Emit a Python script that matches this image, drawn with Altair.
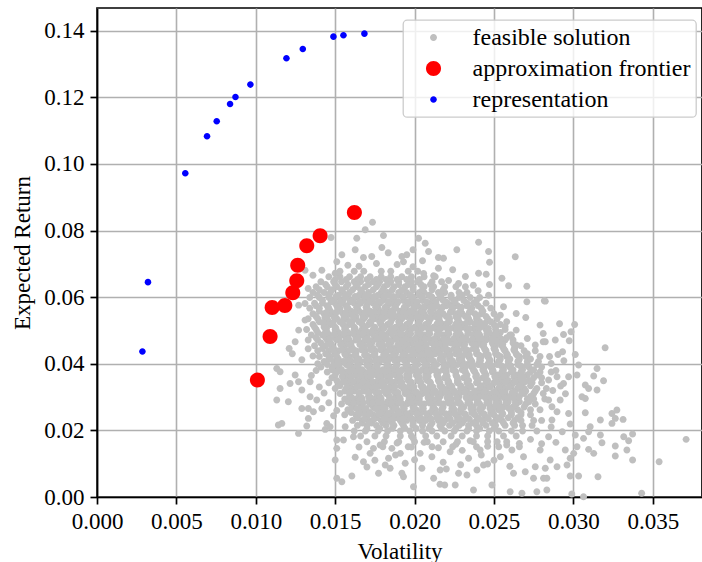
import altair as alt
import pandas as pd

# ---------------- legend / styling categories ----------------
series_names = ["feasible solution", "approximation frontier", "representation"]
series_colors = ["#bfbfbf", "#ff0000", "#0000ff"]
# marker radius (relative to the unit symbol box) for each series
series_radius = [0.52, 1.12, 0.49]

x_ticks = [0.000, 0.005, 0.010, 0.015, 0.020, 0.025, 0.030, 0.035]
y_ticks = [0.00, 0.02, 0.04, 0.06, 0.08, 0.10, 0.12, 0.14]

# ---------------- values (in thousandths) ----------------
frontier_vol = [16.21, 14.05, 13.21, 12.64, 12.58, 12.33, 11.83, 11.03, 10.90, 10.10]
frontier_ret = [85.4, 78.4, 75.4, 69.6, 64.9, 61.3, 57.5, 56.9, 48.2, 35.1]

repr_vol = [2.86, 3.21, 5.56, 6.93, 7.54, 8.38, 8.72, 9.66, 11.93, 12.96, 14.89, 15.52, 16.84]
repr_ret = [43.7, 64.5, 97.2, 108.3, 112.8, 118.0, 120.1, 123.8, 131.7, 134.5, 138.2, 138.6, 139.1]

# dense core of feasible solutions, read row by row (return level: volatilities)
feasible_row_ret = [67.8, 66.1, 64.6, 63.1, 61.4, 59.9, 58.2, 56.7, 55.0, 53.5, 51.8, 50.3,
                    48.6, 47.1, 45.4, 43.9, 42.2, 40.7, 39.0, 37.5, 35.8, 34.3, 32.6, 31.1,
                    29.4, 27.9, 26.2, 24.7, 23.0, 21.5, 19.8, 18.3, 16.6, 15.1]
feasible_row_vol = [
    [15.3, 16.2, 16.8, 17.9, 18.5, 19.6, 20.2],
    [14.6, 15.3, 15.9, 16.6, 17.2, 17.9, 18.5, 19.2, 19.8, 20.6, 21.3],
    [14.1, 14.9, 15.4, 16.2, 16.6, 17.4, 17.8, 18.5, 19.0, 19.8, 20.2, 21.1, 21.7],
    [13.8, 14.5, 15.1, 15.7, 16.3, 16.9, 17.6, 18.1, 18.7, 19.4, 19.9, 20.6, 21.2, 21.9, 22.6],
    [13.6, 14.3, 14.7, 15.5, 15.9, 16.7, 17.1, 17.9, 18.3, 19.0, 19.5, 20.3, 20.6, 21.5, 21.9, 22.8, 23.3],
    [13.4, 14.0, 14.6, 15.2, 15.8, 16.4, 17.0, 17.5, 18.1, 18.7, 19.3, 19.9, 20.5, 21.1, 21.6, 22.3, 22.8, 23.5, 24.1],
    [13.7, 14.2, 15.0, 15.4, 16.2, 16.6, 17.4, 17.8, 18.6, 18.9, 19.7, 20.1, 20.9, 21.3, 22.1, 22.5, 23.3, 23.7, 24.5],
    [13.4, 14.0, 14.6, 15.3, 15.8, 16.4, 17.0, 17.7, 18.2, 18.8, 19.4, 20.0, 20.6, 21.2, 21.7, 22.4, 22.9, 23.6, 24.2, 24.8],
    [13.6, 14.3, 14.7, 15.5, 15.9, 16.7, 17.1, 17.9, 18.3, 19.1, 19.5, 20.2, 20.6, 21.4, 21.8, 22.6, 23.0, 23.8, 24.2, 25.0],
    [13.3, 13.9, 14.5, 15.1, 15.7, 16.3, 16.8, 17.5, 18.0, 18.6, 19.2, 19.8, 20.4, 21.0, 21.5, 22.2, 22.7, 23.4, 23.9, 24.6, 25.2],
    [13.6, 14.3, 14.7, 15.5, 15.9, 16.7, 17.1, 17.9, 18.3, 19.1, 19.5, 20.3, 20.7, 21.4, 21.8, 22.6, 23.0, 23.8, 24.2, 25.0, 25.4],
    [13.2, 13.8, 14.4, 15.0, 15.6, 16.2, 16.7, 17.4, 17.9, 18.5, 19.1, 19.7, 20.3, 20.9, 21.4, 22.1, 22.6, 23.3, 23.8, 24.5, 25.1, 25.7],
    [13.5, 14.2, 14.6, 15.4, 15.8, 16.6, 17.0, 17.8, 18.2, 19.0, 19.4, 20.2, 20.6, 21.4, 21.8, 22.6, 22.9, 23.7, 24.1, 24.9, 25.3, 26.1],
    [13.3, 13.9, 14.5, 15.1, 15.7, 16.3, 16.9, 17.4, 18.0, 18.6, 19.2, 19.8, 20.4, 21.0, 21.5, 22.1, 22.7, 23.3, 23.9, 24.5, 25.0, 25.7, 26.2],
    [13.7, 14.4, 14.8, 15.6, 16.0, 16.8, 17.2, 18.0, 18.4, 19.2, 19.5, 20.3, 20.7, 21.5, 21.9, 22.7, 23.1, 23.9, 24.3, 25.1, 25.5, 26.3, 26.7],
    [13.9, 14.6, 15.2, 15.8, 16.3, 16.9, 17.5, 18.1, 18.7, 19.3, 19.9, 20.4, 21.0, 21.6, 22.2, 22.8, 23.4, 23.9, 24.5, 25.1, 25.7, 26.3, 26.9, 27.6],
    [14.0, 14.7, 15.1, 15.9, 16.3, 17.1, 17.5, 18.3, 18.7, 19.5, 19.8, 20.6, 21.0, 21.8, 22.2, 23.0, 23.4, 24.2, 24.6, 25.4, 25.8, 26.6, 27.0, 27.9, 28.5],
    [14.3, 14.9, 15.5, 16.0, 16.6, 17.2, 17.8, 18.3, 18.9, 19.5, 20.1, 20.7, 21.2, 21.8, 22.4, 23.0, 23.6, 24.1, 24.7, 25.3, 25.9, 26.5, 27.1, 27.8],
    [14.1, 14.8, 15.2, 16.0, 16.4, 17.2, 17.6, 18.4, 18.8, 19.6, 20.0, 20.8, 21.2, 22.0, 22.4, 23.2, 23.6, 24.4, 24.8, 25.6, 26.0, 26.8, 27.2, 28.0],
    [14.5, 15.1, 15.7, 16.3, 16.8, 17.4, 18.0, 18.6, 19.1, 19.7, 20.3, 20.9, 21.5, 22.0, 22.6, 23.2, 23.8, 24.4, 24.9, 25.5, 26.1, 26.7, 27.3, 27.9, 28.6],
    [14.8, 15.5, 15.9, 16.7, 17.1, 17.9, 18.3, 19.1, 19.5, 20.3, 20.7, 21.5, 21.9, 22.7, 23.1, 23.9, 24.3, 25.1, 25.5, 26.3, 26.7, 27.5, 28.0],
    [14.6, 15.2, 15.8, 16.4, 16.9, 17.5, 18.1, 18.7, 19.2, 19.8, 20.4, 21.0, 21.6, 22.1, 22.7, 23.3, 23.9, 24.5, 25.0, 25.6, 26.2, 26.8, 27.4, 28.0],
    [15.0, 15.7, 16.1, 16.9, 17.3, 18.1, 18.5, 19.3, 19.7, 20.5, 20.9, 21.7, 22.1, 22.9, 23.3, 24.1, 24.5, 25.3, 25.7, 26.5, 26.9, 27.7, 28.3],
    [15.3, 15.9, 16.5, 17.1, 17.6, 18.2, 18.8, 19.4, 19.9, 20.5, 21.1, 21.7, 22.3, 22.8, 23.4, 24.0, 24.6, 25.2, 25.7, 26.3, 26.9, 27.5, 28.1],
    [15.6, 16.3, 16.7, 17.5, 17.9, 18.7, 19.1, 19.9, 20.3, 21.1, 21.5, 22.3, 22.7, 23.5, 23.9, 24.7, 25.1, 25.9, 26.3, 27.1, 27.5, 28.2],
    [15.4, 16.0, 16.6, 17.2, 17.7, 18.3, 18.9, 19.5, 20.0, 20.6, 21.2, 21.8, 22.4, 22.9, 23.5, 24.1, 24.7, 25.3, 25.8, 26.4, 27.0, 27.6],
    [15.8, 16.5, 16.9, 17.7, 18.1, 18.9, 19.3, 20.1, 20.5, 21.3, 21.7, 22.5, 22.9, 23.7, 24.1, 24.9, 25.3, 26.1, 26.5, 27.3, 27.9],
    [15.6, 16.3, 16.9, 17.4, 18.0, 18.6, 19.2, 19.7, 20.3, 20.9, 21.5, 22.1, 22.6, 23.2, 23.8, 24.4, 25.0, 25.5, 26.1, 26.7, 27.3],
    [16.1, 16.7, 17.1, 17.9, 18.3, 19.1, 19.5, 20.3, 20.7, 21.5, 21.9, 22.7, 23.1, 23.9, 24.3, 25.1, 25.5, 26.3, 26.7, 27.5, 28.0],
    [16.4, 17.0, 17.6, 18.2, 18.7, 19.3, 19.9, 20.5, 21.0, 21.6, 22.2, 22.8, 23.4, 23.9, 24.5, 25.1, 25.7, 26.3, 26.8, 27.4],
    [16.2, 16.9, 17.7, 18.3, 19.1, 19.7, 20.5, 21.1, 21.9, 22.5, 23.3, 23.9, 24.7, 25.3, 26.1, 26.8, 27.7],
    [16.6, 17.5, 18.2, 19.1, 19.8, 20.7, 21.4, 22.3, 23.0, 23.9, 24.6, 25.6, 26.4],
    [17.0, 18.1, 19.0, 20.0, 20.8, 21.8, 22.7, 23.7, 24.6, 25.8],
    [18.0, 19.6, 21.1, 22.4, 23.9, 25.3, 26.6],
]

# in-between rows of the densest part of the cloud
feasible_mid_ret = [65.3, 63.8, 62.2, 60.6, 59.0, 57.4, 55.8, 54.2, 52.6, 51.0, 49.4, 47.8,
                    46.2, 44.6, 43.0, 41.4, 39.8, 38.2, 36.6, 35.0, 33.4, 31.8, 30.2, 28.6,
                    27.0, 25.4, 23.8, 22.2, 20.6]
feasible_mid_vol = [
    [15.0, 15.7, 16.4, 17.0, 17.6, 18.2, 18.9, 19.5, 20.3],
    [14.4, 15.0, 15.8, 16.4, 17.1, 17.7, 18.3, 19.0, 19.6, 20.4, 21.0],
    [14.0, 14.8, 15.4, 16.1, 16.6, 17.4, 18.0, 18.6, 19.2, 19.9, 20.5, 21.1, 21.8],
    [13.9, 14.6, 15.2, 15.8, 16.5, 17.1, 17.7, 18.4, 19.0, 19.7, 20.3, 20.9, 21.6, 22.3, 23.0],
    [14.2, 14.9, 15.5, 16.1, 16.8, 17.3, 18.0, 18.6, 19.3, 19.8, 20.5, 21.2, 21.8, 22.5, 23.1, 23.9],
    [13.8, 14.5, 15.1, 15.7, 16.4, 17.0, 17.6, 18.3, 18.8, 19.5, 20.2, 20.8, 21.4, 22.0, 22.7, 23.3, 24.0],
    [14.0, 14.7, 15.3, 16.0, 16.5, 17.2, 17.8, 18.5, 19.1, 19.7, 20.4, 21.0, 21.6, 22.3, 22.9, 23.5, 24.3],
    [13.8, 14.4, 15.0, 15.7, 16.3, 16.9, 17.6, 18.2, 18.8, 19.5, 20.1, 20.7, 21.3, 22.0, 22.6, 23.2, 23.9, 24.5],
    [14.0, 14.6, 15.3, 15.9, 16.5, 17.2, 17.8, 18.5, 19.0, 19.7, 20.3, 20.9, 21.6, 22.2, 22.8, 23.5, 24.1, 24.8],
    [13.7, 14.3, 15.0, 15.6, 16.2, 16.9, 17.5, 18.1, 18.8, 19.4, 20.0, 20.7, 21.2, 21.9, 22.5, 23.1, 23.8, 24.4, 25.1],
    [13.9, 14.5, 15.2, 15.8, 16.4, 17.1, 17.7, 18.4, 18.9, 19.6, 20.2, 20.9, 21.5, 22.1, 22.8, 23.4, 24.0, 24.7, 25.4],
    [13.8, 14.4, 15.0, 15.7, 16.3, 16.9, 17.6, 18.2, 18.8, 19.5, 20.1, 20.7, 21.4, 22.0, 22.6, 23.2, 23.9, 24.5, 25.2, 25.8],
    [14.1, 14.7, 15.4, 16.0, 16.6, 17.3, 17.9, 18.5, 19.2, 19.8, 20.4, 21.1, 21.7, 22.3, 23.0, 23.6, 24.2, 24.9, 25.5, 26.2],
    [14.2, 14.9, 15.5, 16.1, 16.8, 17.4, 18.0, 18.7, 19.3, 19.9, 20.6, 21.2, 21.8, 22.5, 23.1, 23.7, 24.4, 25.0, 25.6, 26.3],
    [14.4, 15.0, 15.6, 16.3, 16.9, 17.5, 18.2, 18.8, 19.4, 20.1, 20.7, 21.3, 22.0, 22.6, 23.2, 23.9, 24.5, 25.1, 25.8, 26.4, 27.1],
    [14.6, 15.2, 15.9, 16.5, 17.1, 17.8, 18.4, 19.0, 19.7, 20.3, 20.9, 21.6, 22.2, 22.8, 23.5, 24.1, 24.7, 25.4, 26.0, 26.6, 27.3],
    [14.5, 15.1, 15.7, 16.4, 17.0, 17.6, 18.3, 18.9, 19.5, 20.2, 20.8, 21.4, 22.1, 22.7, 23.3, 24.0, 24.6, 25.2, 25.9, 26.5, 27.1, 27.7],
    [14.8, 15.4, 16.1, 16.7, 17.3, 18.0, 18.6, 19.2, 19.9, 20.5, 21.1, 21.8, 22.4, 23.0, 23.7, 24.3, 24.9, 25.6, 26.2, 26.8, 27.5],
    [15.0, 15.7, 16.3, 16.9, 17.6, 18.2, 18.8, 19.5, 20.1, 20.7, 21.4, 22.0, 22.6, 23.3, 23.9, 24.5, 25.2, 25.8, 26.4, 27.1, 27.7],
    [15.1, 15.8, 16.4, 17.0, 17.7, 18.3, 18.9, 19.6, 20.2, 20.8, 21.5, 22.1, 22.7, 23.4, 24.0, 24.6, 25.3, 25.9, 26.5, 27.2],
    [15.3, 15.9, 16.6, 17.2, 17.8, 18.5, 19.1, 19.7, 20.4, 21.0, 21.6, 22.3, 22.9, 23.5, 24.2, 24.8, 25.4, 26.1, 26.7, 27.3],
    [15.6, 16.2, 16.8, 17.5, 18.1, 18.7, 19.4, 20.0, 20.6, 21.3, 21.9, 22.5, 23.2, 23.8, 24.4, 25.1, 25.7, 26.3, 27.0, 27.6],
    [15.9, 16.5, 17.1, 17.8, 18.4, 19.0, 19.7, 20.3, 20.9, 21.6, 22.2, 22.8, 23.5, 24.1, 24.7, 25.4, 26.0, 26.6, 27.3],
    [15.8, 16.4, 17.1, 17.7, 18.3, 19.0, 19.6, 20.2, 20.9, 21.5, 22.1, 22.8, 23.4, 24.0, 24.7, 25.3, 25.9, 26.6, 27.2],
    [16.1, 16.7, 17.4, 18.0, 18.6, 19.3, 19.9, 20.5, 21.2, 21.8, 22.4, 23.1, 23.7, 24.3, 25.0, 25.6, 26.2, 26.9],
    [16.0, 16.6, 17.2, 17.9, 18.5, 19.1, 19.8, 20.4, 21.0, 21.7, 22.3, 22.9, 23.6, 24.2, 24.8, 25.5, 26.1, 26.7],
    [16.4, 17.0, 17.6, 18.3, 18.9, 19.5, 20.2, 20.8, 21.4, 22.1, 22.7, 23.3, 24.0, 24.6, 25.2, 25.9, 26.5],
    [16.7, 17.3, 18.0, 18.6, 19.2, 19.9, 20.5, 21.1, 21.8, 22.4, 23.0, 23.7, 24.3, 24.9, 25.6, 26.2],
    [17.0, 17.8, 18.6, 19.4, 20.1, 20.9, 21.7, 22.6, 23.4, 24.1, 25.0],
]

# extra rows filling the solid centre of the cloud
feasible_fill_ret = [60.2, 58.6, 57.0, 55.4, 53.8, 52.2, 50.6, 49.0, 47.4, 45.8, 44.2, 42.6,
                     41.0, 39.4, 37.8, 36.2, 34.6, 33.0, 31.4, 29.8, 28.2, 26.6, 25.0, 23.4]
feasible_fill_vol = [
    [15.05, 15.65, 16.25, 16.85, 17.45, 18.05, 18.65, 19.25, 19.85, 20.45, 21.05, 21.65],
    [14.75, 15.35, 15.95, 16.55, 17.15, 17.75, 18.35, 18.95, 19.55, 20.15, 20.75, 21.35, 21.95, 22.55],
    [14.55, 15.15, 15.75, 16.35, 16.95, 17.55, 18.15, 18.75, 19.35, 19.95, 20.55, 21.15, 21.75, 22.35, 22.95],
    [14.45, 15.05, 15.65, 16.25, 16.85, 17.45, 18.05, 18.65, 19.25, 19.85, 20.45, 21.05, 21.65, 22.25, 22.85, 23.45],
    [14.35, 14.95, 15.55, 16.15, 16.75, 17.35, 17.95, 18.55, 19.15, 19.75, 20.35, 20.95, 21.55, 22.15, 22.75, 23.35, 23.95],
    [14.25, 14.85, 15.45, 16.05, 16.65, 17.25, 17.85, 18.45, 19.05, 19.65, 20.25, 20.85, 21.45, 22.05, 22.65, 23.25, 23.85, 24.45],
    [14.45, 15.05, 15.65, 16.25, 16.85, 17.45, 18.05, 18.65, 19.25, 19.85, 20.45, 21.05, 21.65, 22.25, 22.85, 23.45, 24.05, 24.65],
    [14.35, 14.95, 15.55, 16.15, 16.75, 17.35, 17.95, 18.55, 19.15, 19.75, 20.35, 20.95, 21.55, 22.15, 22.75, 23.35, 23.95, 24.55, 25.15],
    [14.65, 15.25, 15.85, 16.45, 17.05, 17.65, 18.25, 18.85, 19.45, 20.05, 20.65, 21.25, 21.85, 22.45, 23.05, 23.65, 24.25, 24.85, 25.45],
    [14.75, 15.35, 15.95, 16.55, 17.15, 17.75, 18.35, 18.95, 19.55, 20.15, 20.75, 21.35, 21.95, 22.55, 23.15, 23.75, 24.35, 24.95, 25.55],
    [14.85, 15.45, 16.05, 16.65, 17.25, 17.85, 18.45, 19.05, 19.65, 20.25, 20.85, 21.45, 22.05, 22.65, 23.25, 23.85, 24.45, 25.05, 25.65, 26.25],
    [15.05, 15.65, 16.25, 16.85, 17.45, 18.05, 18.65, 19.25, 19.85, 20.45, 21.05, 21.65, 22.25, 22.85, 23.45, 24.05, 24.65, 25.25, 25.85, 26.45],
    [15.15, 15.75, 16.35, 16.95, 17.55, 18.15, 18.75, 19.35, 19.95, 20.55, 21.15, 21.75, 22.35, 22.95, 23.55, 24.15, 24.75, 25.35, 25.95, 26.55],
    [15.25, 15.85, 16.45, 17.05, 17.65, 18.25, 18.85, 19.45, 20.05, 20.65, 21.25, 21.85, 22.45, 23.05, 23.65, 24.25, 24.85, 25.45, 26.05, 26.65],
    [15.35, 15.95, 16.55, 17.15, 17.75, 18.35, 18.95, 19.55, 20.15, 20.75, 21.35, 21.95, 22.55, 23.15, 23.75, 24.35, 24.95, 25.55, 26.15, 26.75],
    [15.45, 16.05, 16.65, 17.25, 17.85, 18.45, 19.05, 19.65, 20.25, 20.85, 21.45, 22.05, 22.65, 23.25, 23.85, 24.45, 25.05, 25.65, 26.25, 26.85],
    [15.55, 16.15, 16.75, 17.35, 17.95, 18.55, 19.15, 19.75, 20.35, 20.95, 21.55, 22.15, 22.75, 23.35, 23.95, 24.55, 25.15, 25.75, 26.35, 26.95],
    [15.75, 16.35, 16.95, 17.55, 18.15, 18.75, 19.35, 19.95, 20.55, 21.15, 21.75, 22.35, 22.95, 23.55, 24.15, 24.75, 25.35, 25.95, 26.55],
    [15.95, 16.55, 17.15, 17.75, 18.35, 18.95, 19.55, 20.15, 20.75, 21.35, 21.95, 22.55, 23.15, 23.75, 24.35, 24.95, 25.55, 26.15, 26.75],
    [16.05, 16.65, 17.25, 17.85, 18.45, 19.05, 19.65, 20.25, 20.85, 21.45, 22.05, 22.65, 23.25, 23.85, 24.45, 25.05, 25.65, 26.25],
    [16.15, 16.75, 17.35, 17.95, 18.55, 19.15, 19.75, 20.35, 20.95, 21.55, 22.15, 22.75, 23.35, 23.95, 24.55, 25.15, 25.75, 26.35],
    [16.35, 16.95, 17.55, 18.15, 18.75, 19.35, 19.95, 20.55, 21.15, 21.75, 22.35, 22.95, 23.55, 24.15, 24.75, 25.35, 25.95],
    [16.55, 17.15, 17.75, 18.35, 18.95, 19.55, 20.15, 20.75, 21.35, 21.95, 22.55, 23.15, 23.75, 24.35, 24.95, 25.55],
    [16.85, 17.45, 18.05, 18.65, 19.25, 19.85, 20.45, 21.05, 21.65, 22.25, 22.85, 23.45, 24.05, 24.65, 25.25],
]

# sparse outskirts of the feasible cloud (volatility, return)
feasible_upper = [
    (17.35, 82.5), (16.89, 80.2), (16.36, 77.7), (14.74, 77.9), (18.04, 78.5), (17.94, 74.9),
    (18.34, 73.3), (16.26, 74.2), (16.78, 71.9), (17.30, 72.2), (15.42, 72.7), (19.20, 72.2),
    (15.10, 70.6), (20.25, 77.7), (20.67, 76.2), (20.88, 73.7), (24.03, 76.5), (22.66, 74.2),
    (24.66, 73.7), (24.72, 70.5), (21.50, 71.9), (21.82, 71.7), (21.50, 68.7), (19.51, 72.7),
    (19.90, 74.2), (26.34, 72.1), (24.03, 67.2), (24.51, 66.9), (25.50, 65.7), (25.92, 63.4),
    (27.07, 63.3), (27.07, 58.6), (28.17, 58.9), (25.60, 57.1), (26.40, 55.1), (24.72, 63.8),
    (24.66, 60.6), (24.00, 61.9), (23.20, 63.1), (23.70, 63.6), (22.77, 64.1), (22.14, 65.0),
    (21.20, 66.4), (20.57, 67.1), (15.80, 69.6), (16.50, 69.3), (17.60, 70.1), (18.90, 69.8),
    (19.30, 70.6), (19.90, 69.1), (20.50, 70.9), (22.40, 68.2), (23.20, 66.2),
]
feasible_left = [
    (13.10, 68.1), (14.16, 68.1), (13.60, 66.6), (15.00, 67.2), (13.30, 62.6), (13.10, 58.1),
    (12.70, 57.6), (13.10, 53.1), (12.70, 50.1), (12.48, 46.6), (12.10, 44.6), (12.30, 43.0),
    (12.90, 41.2), (13.30, 44.5), (13.60, 42.3), (11.32, 38.6), (11.53, 37.6), (12.48, 36.6),
    (12.16, 34.1), (12.69, 34.6), (13.42, 34.6), (11.53, 32.6), (12.90, 32.1), (11.32, 29.1),
    (12.05, 28.6), (12.90, 26.6), (13.42, 30.1), (13.84, 29.1), (13.31, 26.6), (13.63, 25.6),
    (14.16, 26.6), (13.31, 23.6), (11.42, 21.6), (11.64, 22.1), (13.21, 21.3), (12.69, 19.1),
    (14.47, 22.1), (14.37, 20.3), (14.68, 21.1), (15.63, 21.1), (13.80, 38.0), (13.50, 36.5),
    (14.00, 33.0), (14.30, 31.2), (14.60, 28.3), (14.90, 24.4), (15.10, 26.0), (13.90, 40.0),
]
feasible_right = [
    (28.23, 58.8), (29.13, 52.0), (30.08, 51.8), (29.38, 48.8), (29.85, 49.6), (28.86, 47.1),
    (29.74, 46.9), (28.23, 46.6), (32.00, 44.8), (29.32, 43.6), (30.12, 42.8), (29.03, 42.8),
    (30.33, 39.6), (31.49, 38.6), (31.28, 36.3), (31.90, 34.9), (28.44, 35.1), (28.97, 36.1),
    (29.38, 34.1), (29.70, 36.1), (30.23, 36.6), (30.75, 33.6), (30.96, 32.6), (30.54, 30.1),
    (31.49, 32.1), (30.75, 29.6), (28.44, 29.1), (29.17, 29.1), (29.50, 31.0), (28.65, 27.1),
    (28.97, 25.6), (29.70, 25.1), (30.75, 25.3), (32.43, 25.1), (32.74, 26.1), (32.64, 23.6),
    (31.70, 23.1), (33.13, 23.3), (32.43, 22.1), (28.65, 23.1), (29.80, 21.9), (31.06, 21.1),
    (30.96, 19.6), (30.12, 18.6), (28.44, 18.1), (30.64, 17.6), (31.70, 18.6), (31.80, 16.3),
    (33.17, 18.1), (33.48, 16.9), (33.73, 18.9), (32.64, 15.3), (33.37, 14.1), (32.64, 12.3),
    (33.73, 11.1), (30.96, 14.3), (31.28, 13.1), (30.23, 15.1), (29.49, 14.1), (30.02, 13.1),
    (29.80, 11.6), (28.54, 11.1), (29.60, 9.6), (28.97, 9.1), (30.33, 6.3), (31.55, 6.1),
    (29.80, 6.3), (28.33, 5.6), (29.90, 0.9), (30.64, 0.1), (34.30, 1.1), (35.40, 10.6),
    (37.10, 17.3), (25.40, 54.6), (25.80, 52.6), (25.70, 51.1), (26.40, 50.1), (27.90, 51.6),
    (28.10, 49.1), (27.10, 47.6), (27.60, 45.6), (28.10, 46.6), (26.00, 48.6), (25.20, 46.6),
    (26.40, 45.6), (27.00, 53.9), (28.60, 40.1), (28.90, 38.0), (29.40, 40.9), (28.70, 32.0),
    (29.20, 33.3), (28.60, 21.0), (29.30, 19.6), (28.90, 16.4),
]
feasible_bottom = [
    (19.93, 3.1), (21.60, 3.8), (21.90, 3.6), (22.56, 3.6), (23.71, 2.1), (24.87, 3.6),
    (26.02, 1.6), (26.76, 1.1), (27.70, 1.6), (28.33, 2.1), (21.20, 5.6), (20.46, 8.6),
    (21.61, 8.1), (22.00, 8.4), (22.77, 7.1), (23.30, 6.6), (23.93, 8.1), (24.34, 9.6),
    (24.60, 9.9), (25.40, 12.1), (26.23, 7.1), (26.97, 7.6), (27.49, 5.6), (28.12, 5.6),
    (27.60, 9.1), (28.23, 8.6), (19.41, 10.1), (19.30, 6.1), (21.09, 12.1), (20.35, 13.1),
    (22.24, 13.6), (23.40, 11.6), (23.00, 14.0), (24.13, 14.1), (26.13, 14.1), (26.86, 12.1),
    (27.91, 14.1), (15.10, 17.1), (15.52, 17.1), (16.15, 18.1), (15.10, 14.6), (15.00, 11.1),
    (15.10, 5.6), (15.42, 4.6), (16.26, 11.9), (16.78, 10.6), (16.05, 6.3), (17.20, 13.1),
    (17.41, 14.6), (17.83, 15.6), (17.73, 7.1), (18.15, 9.6), (18.46, 8.6), (18.57, 14.6),
    (18.36, 11.6), (19.10, 13.1), (19.20, 7.1), (25.20, 16.6), (27.30, 17.3), (28.00, 16.0),
    (17.50, 11.0), (18.90, 16.2), (19.80, 15.0), (20.60, 16.4), (21.50, 14.8), (22.60, 15.8),
    (23.50, 16.9), (24.60, 15.2), (25.80, 15.6), (26.60, 16.1), (20.00, 11.2), (21.80, 10.4),
    (22.90, 9.7), (25.00, 11.0), (26.00, 9.2), (18.80, 12.6), (19.90, 17.7), (24.20, 12.6),
    (17.00, 9.0), (16.50, 15.0),
]

# ---------------- assemble table ----------------
records = []
all_row_ret = feasible_row_ret + feasible_mid_ret + feasible_fill_ret
all_row_vol = feasible_row_vol + feasible_mid_vol + feasible_fill_vol
for ret, vols in zip(all_row_ret, all_row_vol):
    for v in vols:
        records.append((v, ret, series_names[0]))
for v, r in feasible_upper + feasible_left + feasible_right + feasible_bottom:
    records.append((v, r, series_names[0]))
for v, r in zip(frontier_vol, frontier_ret):
    records.append((v, r, series_names[1]))
for v, r in zip(repr_vol, repr_ret):
    records.append((v, r, series_names[2]))

df = pd.DataFrame(records, columns=["vol_k", "ret_k", "series"])
df["Volatility"] = df["vol_k"] / 1000.0
df["Expected Return"] = df["ret_k"] / 1000.0


def circle_path(r):
    return f"M{-r},0A{r},{r},0,1,0,{r},0A{r},{r},0,1,0,{-r},0Z"


series_shapes = [circle_path(r) for r in series_radius]

FONT = "Liberation Serif"
FS = 23
LEGEND_FS = 24
SYMBOL_SIZE = 180

legend = alt.Legend(
    title=None,
    orient="none",
    legendX=306,
    legendY=12,
    symbolOffset=13,
    labelOffset=27,
    labelFont=FONT,
    labelFontSize=LEGEND_FS,
    labelColor="black",
    labelLimit=400,
    symbolSize=SYMBOL_SIZE,
    symbolStrokeWidth=0,
)

axis_style = dict(
    labelFont=FONT,
    labelFontSize=FS,
    labelColor="black",
    labelFlush=False,
    titleFont=FONT,
    titleFontSize=FS,
    titleFontWeight="normal",
    titleColor="black",
    domainColor="black",
    domainWidth=1.7,
    tickColor="black",
    tickWidth=1.7,
    tickSize=7,
    labelPadding=6,
    grid=True,
    gridColor="#b0b0b0",
    gridWidth=1.6,
)

chart = alt.Chart(df).mark_point(filled=True, opacity=1, size=SYMBOL_SIZE, strokeWidth=0).encode(
    x=alt.X(
        "Volatility:Q",
        scale=alt.Scale(domain=[0, 0.0381], nice=False, zero=False),
        axis=alt.Axis(values=x_ticks, format=".3f", title="Volatility", titlePadding=7, **axis_style),
    ),
    y=alt.Y(
        "Expected Return:Q",
        scale=alt.Scale(domain=[0, 0.1468], nice=False),
        axis=alt.Axis(values=y_ticks, format=".2f", title="Expected Return", titlePadding=9, **axis_style),
    ),
    color=alt.Color(
        "series:N",
        scale=alt.Scale(domain=series_names, range=series_colors),
        legend=legend,
    ),
    shape=alt.Shape(
        "series:N",
        scale=alt.Scale(domain=series_names, range=series_shapes),
        legend=legend,
    ),
).properties(
    width=605,
    height=489,
    autosize=alt.AutoSizeParams(type="none"),
    padding={"left": 97, "top": 8, "right": 0, "bottom": 65},
).configure(
    font=FONT,
).configure_view(
    stroke="black",
    strokeWidth=1.7,
).configure_legend(
    padding=5.5,
    rowPadding=7,
    fillColor="rgba(255,255,255,0.8)",
    strokeColor="#cccccc",
    strokeWidth=1.3,
    cornerRadius=4,
)

chart.save("out.html", embed_options={"renderer": "svg", "actions": False})
